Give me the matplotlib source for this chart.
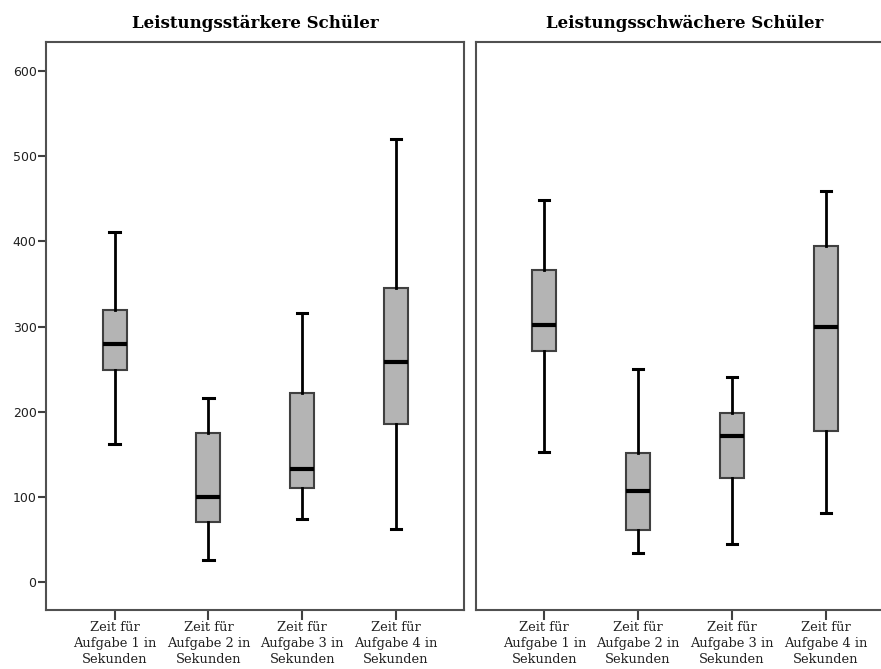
import matplotlib.pyplot as plt

# Werte (Sekunden)
aufgaben = ["Zeit für\nAufgabe 1 in\nSekunden", "Zeit für\nAufgabe 2 in\nSekunden",
            "Zeit für\nAufgabe 3 in\nSekunden", "Zeit für\nAufgabe 4 in\nSekunden"]

# leistungsstärkere Schüler
stark_min = [162, 26, 74, 62]
stark_q1 = [249, 70, 110, 186]
stark_med = [280, 100, 133, 258]
stark_q3 = [320, 175, 222, 345]
stark_max = [411, 216, 316, 520]

# leistungsschwächere Schüler
schwach_min = [153, 34, 45, 81]
schwach_q1 = [271, 61, 122, 177]
schwach_med = [302, 107, 171, 299]
schwach_q3 = [366, 151, 198, 395]
schwach_max = [449, 250, 241, 459]

y_ticks = [0, 100, 200, 300, 400, 500, 600]


def stats(mins, q1s, meds, q3s, maxs):
    lista = []
    for i in range(len(mins)):
        lista.append({"whislo": mins[i], "q1": q1s[i], "med": meds[i],
                      "q3": q3s[i], "whishi": maxs[i], "fliers": []})
    return lista


def panel(ax, datos, titulo, mit_y):
    ax.bxp(datos, positions=[1, 2, 3, 4], widths=0.255, patch_artist=True,
           showfliers=False,
           boxprops=dict(facecolor="#b4b4b4", edgecolor="#404040", linewidth=1.5),
           medianprops=dict(color="black", linewidth=3),
           whiskerprops=dict(color="black", linewidth=2),
           capprops=dict(color="black", linewidth=2.2),
           capwidths=0.11)
    ax.set_xlim(0.272, 4.728)
    ax.set_ylim(-33, 634)
    ax.set_xticks([1, 2, 3, 4])
    ax.set_xticklabels(aufgaben, family="DejaVu Serif", fontsize=9.4,
                       linespacing=1.3, color="#202020")
    ax.tick_params(axis="x", length=7, width=1.5, color="#404040", pad=1)
    if mit_y:
        ax.set_yticks(y_ticks)
        ax.set_yticklabels([str(v) for v in y_ticks], fontsize=9, color="#202020")
        ax.tick_params(axis="y", length=6, width=1.5, color="#404040", pad=1)
    else:
        ax.set_yticks([])
    for s in ax.spines.values():
        s.set_color("#505050")
        s.set_linewidth(1.5)
    ax.set_title(titulo, family="DejaVu Serif", fontweight="bold",
                 fontsize=12, pad=10)


fig = plt.figure(figsize=(8.81, 6.69), dpi=100)
ax1 = fig.add_axes([0.0526, 0.0882, 0.4745, 0.8486])
ax2 = fig.add_axes([0.5403, 0.0882, 0.4745, 0.8486])

panel(ax1, stats(stark_min, stark_q1, stark_med, stark_q3, stark_max),
      "Leistungsstärkere Schüler", True)
panel(ax2, stats(schwach_min, schwach_q1, schwach_med, schwach_q3, schwach_max),
      "Leistungsschwächere Schüler", False)

fig.savefig("out.png", dpi=100)
